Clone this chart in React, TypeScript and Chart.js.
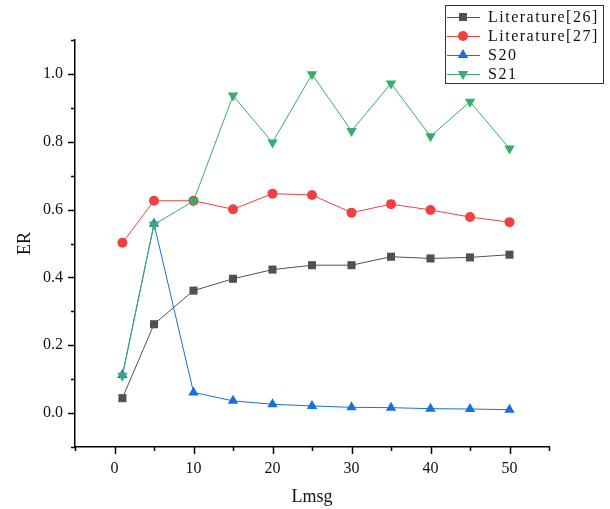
import React, { useEffect, useRef } from 'react';
import { Chart, registerables } from 'chart.js';

Chart.register(...registerables);

const lmsg = [1, 5, 10, 15, 20, 25, 30, 35, 40, 45, 50];
const literature26 = [0.044, 0.262, 0.361, 0.396, 0.423, 0.436, 0.436, 0.461, 0.456, 0.459, 0.467];
const literature27 = [0.502, 0.626, 0.626, 0.601, 0.647, 0.643, 0.591, 0.616, 0.599, 0.578, 0.563];
const s20 = [0.112, 0.558, 0.061, 0.036, 0.026, 0.021, 0.017, 0.016, 0.013, 0.012, 0.010];
const s21 = [0.110, 0.556, 0.625, 0.936, 0.798, 0.999, 0.832, 0.972, 0.816, 0.918, 0.780];
const seriesNames = ['Literature[26]', 'Literature[27]', 'S20', 'S21'];
const xTitle = 'Lmsg';
const yTitle = 'ER';

const SERIF = '"Liberation Serif", "DejaVu Serif", serif';

function drawMarker(ctx: CanvasRenderingContext2D, style: string, rotation: number, x: number, y: number, r: number, color: string) {
  ctx.save();
  ctx.fillStyle = color;
  ctx.beginPath();
  if (style === 'rect') {
    const s = Math.SQRT1_2 * r;
    ctx.rect(x - s, y - s, 2 * s, 2 * s);
  } else if (style === 'circle') {
    ctx.arc(x, y, r, 0, Math.PI * 2);
  } else {
    let rad = (rotation * Math.PI) / 180;
    ctx.moveTo(x + Math.sin(rad) * r, y - Math.cos(rad) * r);
    rad += (2 * Math.PI) / 3;
    ctx.lineTo(x + Math.sin(rad) * r, y - Math.cos(rad) * r);
    rad += (2 * Math.PI) / 3;
    ctx.lineTo(x + Math.sin(rad) * r, y - Math.cos(rad) * r);
    ctx.closePath();
  }
  ctx.fill();
  ctx.restore();
}

const tickPlugin = {
  id: 'originTicks',
  afterDraw(chart: any) {
    const ctx = chart.ctx;
    const xs = chart.scales.x;
    const ys = chart.scales.y;
    const area = chart.chartArea;
    ctx.save();
    ctx.strokeStyle = '#000';
    ctx.lineWidth = 1.5;
    ctx.beginPath();
    for (const t of ys.ticks) {
      const py = Math.round(ys.getPixelForValue(t.value)) + 0.5;
      const major = Math.abs(Math.round(t.value * 10)) % 2 === 0;
      const len = major ? 7 : 4;
      ctx.moveTo(area.left, py);
      ctx.lineTo(area.left - len, py);
    }
    for (const t of xs.ticks) {
      const px = Math.round(xs.getPixelForValue(t.value)) + 0.5;
      const major = Math.abs(Math.round(t.value)) % 10 === 0;
      const len = major ? 7 : 4;
      ctx.moveTo(px, area.bottom);
      ctx.lineTo(px, area.bottom + len);
    }
    ctx.stroke();
    ctx.restore();
  },
};

const legendPlugin = {
  id: 'boxLegend',
  afterDraw(chart: any) {
    const ctx = chart.ctx as CanvasRenderingContext2D;
    ctx.save();
    ctx.fillStyle = '#fff';
    ctx.fillRect(445.5, 5.5, 158, 78);
    ctx.strokeStyle = '#333';
    ctx.lineWidth = 1;
    ctx.strokeRect(445.5, 5.5, 158, 78);
    chart.data.datasets.forEach((ds: any, i: number) => {
      const y = 17 + i * 19;
      ctx.strokeStyle = ds.borderColor;
      ctx.lineWidth = 1;
      ctx.beginPath();
      ctx.moveTo(447, y + 0.5);
      ctx.lineTo(480, y + 0.5);
      ctx.stroke();
      drawMarker(ctx, ds.pointStyle, ds.pointRotation || 0, 463, y, ds.pointRadius, ds.pointBackgroundColor);
      ctx.fillStyle = '#111';
      ctx.font = `16px ${SERIF}`;
      ctx.textBaseline = 'middle';
      ctx.textAlign = 'left';
      try { (ctx as any).letterSpacing = '1.5px'; } catch (e) {}
      ctx.fillText(ds.label, 488, y + 1);
      try { (ctx as any).letterSpacing = '0px'; } catch (e) {}
    });
    ctx.restore();
  },
};

function makeDataset(label: string, values: number[], color: string, style: string, radius: number, order: number, rotation = 0) {
  return {
    label,
    data: lmsg.map((x, i) => ({ x, y: values[i] })),
    borderColor: color,
    backgroundColor: color,
    borderWidth: 1,
    pointStyle: style,
    pointRotation: rotation,
    pointRadius: radius,
    pointHoverRadius: radius,
    pointBackgroundColor: color,
    pointBorderColor: color,
    pointBorderWidth: 0,
    tension: 0,
    order,
    clip: false,
  };
}

export default function App() {
  const ref = useRef<HTMLCanvasElement>(null);
  useEffect(() => {
    document.body.style.margin = '0';
    const canvas = ref.current!;
    const chart = new Chart(canvas, {
      type: 'line',
      data: {
        datasets: [
          makeDataset(seriesNames[0], literature26, '#515151', 'rect', 5.7, 4),
          makeDataset(seriesNames[1], literature27, '#F14040', 'circle', 5, 3),
          makeDataset(seriesNames[2], s20, '#1A6FDF', 'triangle', 6, 2),
          makeDataset(seriesNames[3], s21, '#37AD6B', 'triangle', 6, 1, 180),
        ] as any,
      },
      options: {
        animation: false,
        responsive: false,
        maintainAspectRatio: false,
        layout: { padding: { top: 40, right: 61, left: 0, bottom: 0 } },
        plugins: { legend: { display: false }, tooltip: { enabled: false } },
        scales: {
          x: {
            type: 'linear',
            min: -5,
            max: 55,
            afterFit: (s: any) => { s.height = 62; },
            grid: { display: false, drawTicks: false },
            border: { display: true, color: '#000', width: 1.5 },
            ticks: {
              stepSize: 5,
              padding: 12,
              autoSkip: false,
              maxRotation: 0,
              color: '#111',
              font: { family: SERIF, size: 16 },
              callback: (v: any) => (Math.round(v) % 10 === 0 ? String(Math.round(v)) : ''),
            },
            title: {
              display: true,
              text: xTitle,
              color: '#111',
              font: { family: SERIF, size: 18 },
              padding: { top: 0, bottom: 1 },
            },
          },
          y: {
            type: 'linear',
            min: -0.1,
            max: 1.1,
            afterFit: (s: any) => { s.width = 75; },
            grid: { display: false, drawTicks: false },
            border: { display: true, color: '#000', width: 1.5 },
            ticks: {
              stepSize: 0.1,
              padding: 12,
              autoSkip: false,
              color: '#111',
              font: { family: SERIF, size: 16 },
              callback: (v: any) => {
                const k = Math.round(v * 10);
                return k % 2 === 0 && k >= 0 && k <= 10 ? (k / 10).toFixed(1) : '';
              },
            },
            title: {
              display: true,
              text: yTitle,
              color: '#111',
              font: { family: SERIF, size: 18 },
              padding: { top: 14, bottom: 0 },
            },
          },
        },
      },
      plugins: [tickPlugin, legendPlugin],
    });
    return () => chart.destroy();
  }, []);
  return (
    <div style={{ width: 610, height: 509, background: '#fff' }}>
      <canvas ref={ref} width={610} height={509} style={{ width: 610, height: 509, display: 'block' }} />
    </div>
  );
}
